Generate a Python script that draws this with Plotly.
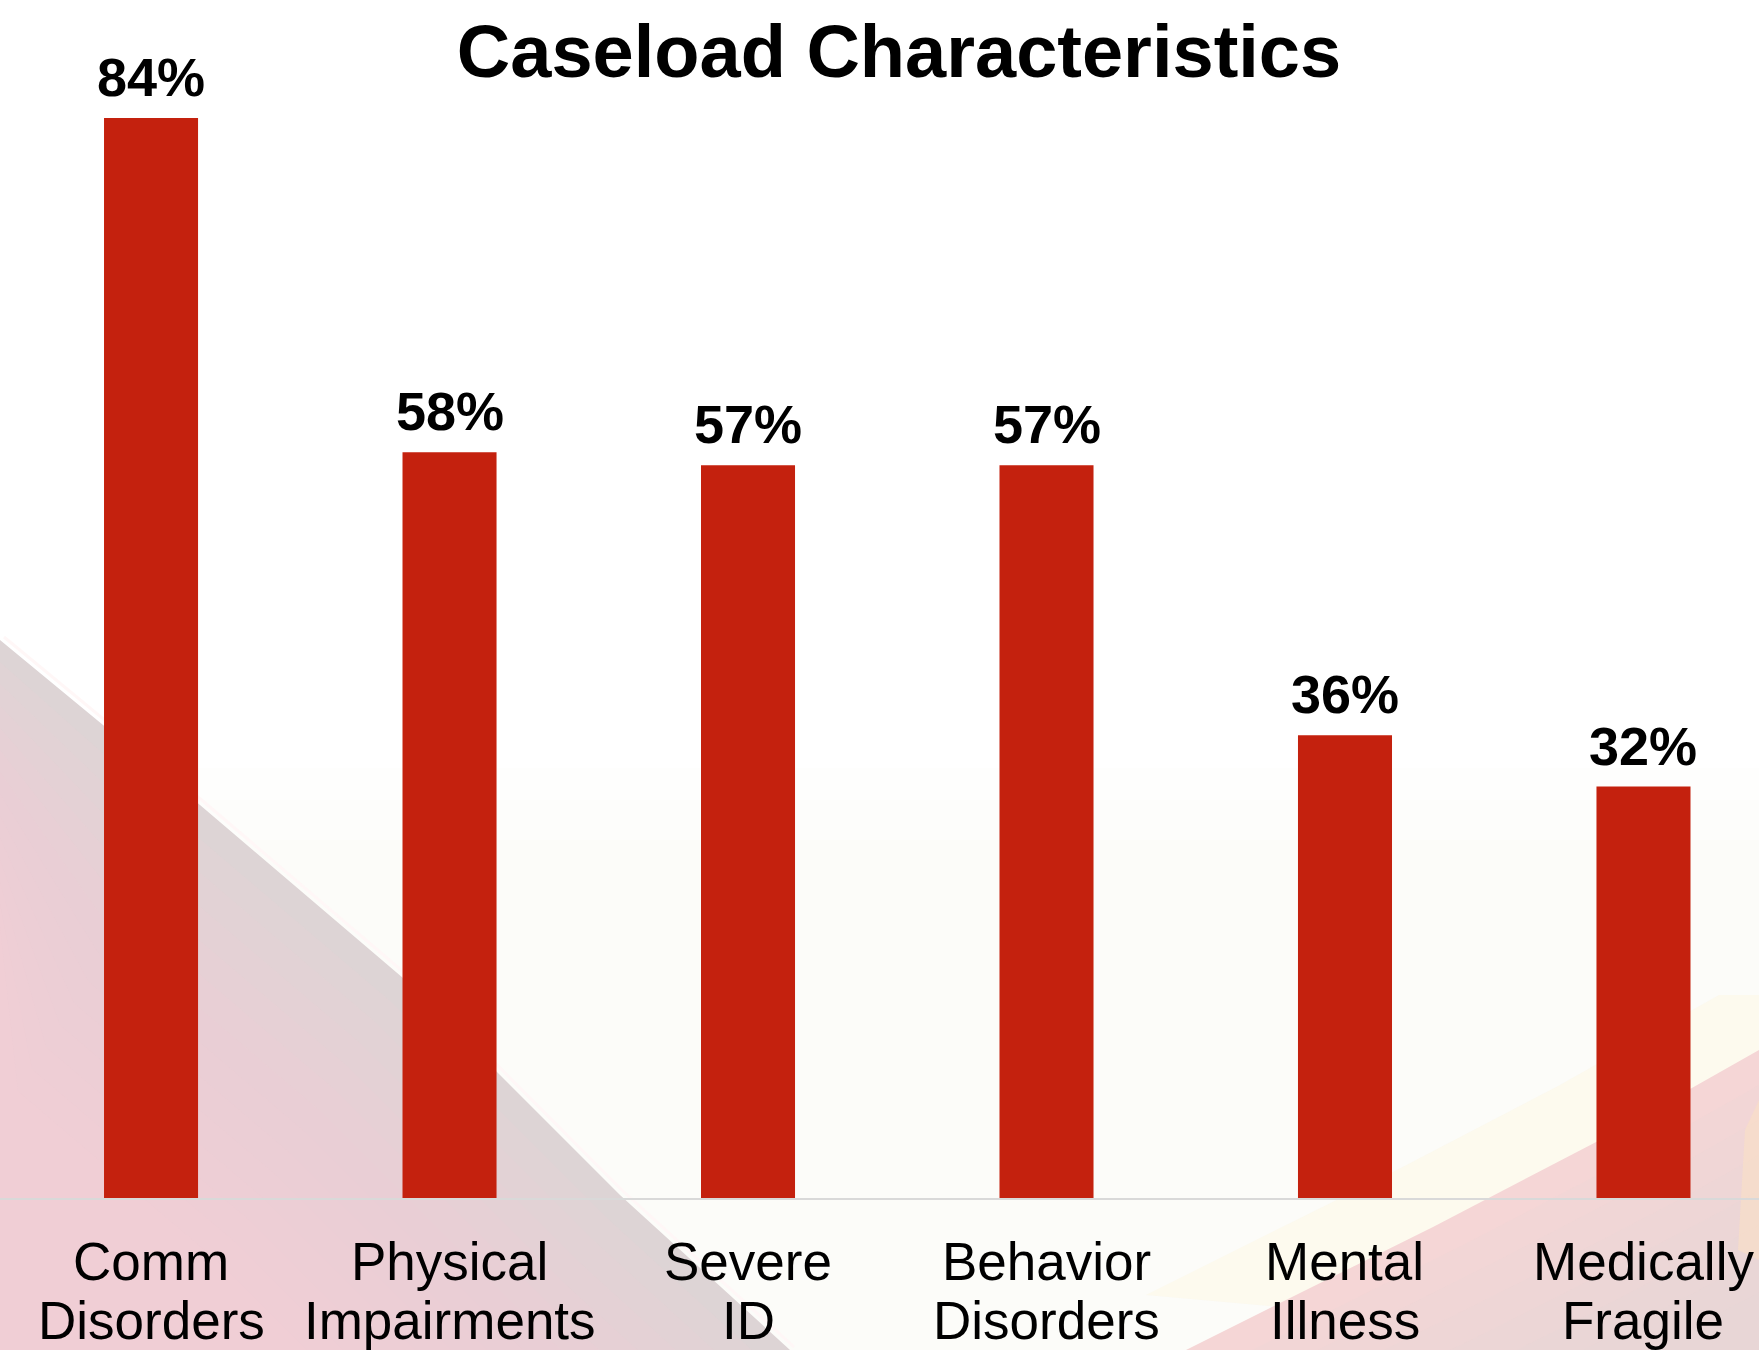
import plotly.graph_objects as go

# Caseload characteristics: share of caseload (%) by category
categories = [
    "Comm Disorders",
    "Physical Impairments",
    "Severe ID",
    "Behavior Disorders",
    "Mental Illness",
    "Medically Fragile",
]
percentages = [84, 58, 57, 57, 36, 32]
value_labels = ["84%", "58%", "57%", "57%", "36%", "32%"]

title_text = "Caseload Characteristics"

W, H = 1759, 1350
MARGIN_B = 152
PLOT_H = H - MARGIN_B

BAR_COLOR = "#c4210e"
FONT = "Liberation Sans, Arial, Helvetica, sans-serif"


def to_paper(x, y):
    """Convert page pixel coordinates to paper coordinates of the plot area."""
    return x / W, (PLOT_H - y) / PLOT_H


def path_from(points, close=True):
    pts = [to_paper(x, y) for x, y in points]
    d = "M " + " L ".join(f"{px:.5f},{py:.5f}" for px, py in pts)
    return d + " Z" if close else d


def bg_shape(points, color):
    return dict(type="path", xref="paper", yref="paper", layer="below",
                path=path_from(points), fillcolor=color, line=dict(width=0))


shapes = []

# soft slide backdrop: barely-there warm wash on the lower half
for k, top in enumerate([768, 800, 840]):
    shapes.append(bg_shape([(0, top), (W, top), (W, H), (0, H)],
                           "rgba(246,240,232,0.08)"))

# left diagonal panel (grey-pink, deepening to pink toward the corner)
left_edge = [(0, 640), (200, 805), (403, 978), (620, 1195), (790, 1350)]
shapes.append(bg_shape(left_edge + [(0, H)], "#ddd4d5"))
for k in range(1, 14):
    shifted = [(x - 14 * k, y + 22 * k) for x, y in left_edge]
    shifted = [(max(x, 0), y) for x, y in shifted]
    shapes.append(bg_shape([(0, 640 + 22 * k)] + shifted + [(0, H + 400)],
                           "rgba(250,208,210,0.12)"))
# thin pale highlight along the panel edge
edge_hi = [(x + 4, y - 3) for x, y in left_edge]
shapes.append(dict(type="path", xref="paper", yref="paper", layer="below",
                   path=path_from(edge_hi, close=False), fillcolor="rgba(0,0,0,0)",
                   line=dict(width=3, color="rgba(255,246,246,0.9)")))

# right side: pale yellow glow, then pink sweep at the bottom right
right_edge = [(1186, H), (1300, 1293), (1433, 1227), (1600, 1140), (W, 1050)]
glow = [(x - 40, y - 55) for x, y in right_edge] + [(W, 995)]
shapes.append(bg_shape(glow + [(W, H)], "rgba(254,247,228,0.5)"))
shapes.append(bg_shape(right_edge + [(W, H)], "#f5d6d6"))
for k in range(1, 8):
    shifted = [(x + 30 * k, y + 18 * k) for x, y in right_edge]
    shapes.append(bg_shape(shifted + [(W + 400, H + 400)],
                           "rgba(228,214,217,0.15)"))
shapes.append(bg_shape([(1738, 1250), (1745, 1130), (W, 1100), (W, 1260)],
                       "rgba(250,224,196,0.6)"))

fig = go.Figure()
fig.add_trace(go.Bar(
    x=categories,
    y=percentages,
    width=0.315,
    marker=dict(color=BAR_COLOR, line=dict(width=0)),
    hoverinfo="skip",
))

annotations = []
# value labels above bars
for cat, val, lab in zip(categories, percentages, value_labels):
    annotations.append(dict(
        x=cat, y=val, xref="x", yref="y", text=f"<b>{lab}</b>", showarrow=False,
        yanchor="bottom", yshift=9,
        font=dict(family=FONT, size=54, color="#000000"),
    ))
# two-line category labels under the axis
for cat in categories:
    first, second = cat.split(" ", 1)
    annotations.append(dict(
        x=cat, y=0, xref="x", yref="paper", text=first, showarrow=False,
        yanchor="middle", yshift=-63,
        font=dict(family=FONT, size=53, color="#000000"),
    ))
    annotations.append(dict(
        x=cat, y=0, xref="x", yref="paper", text=second, showarrow=False,
        yanchor="middle", yshift=-122,
        font=dict(family=FONT, size=53, color="#000000"),
    ))

fig.update_layout(
    width=W,
    height=H,
    margin=dict(l=0, r=0, t=0, b=MARGIN_B, pad=0, autoexpand=False),
    paper_bgcolor="#ffffff",
    plot_bgcolor="rgba(0,0,0,0)",
    showlegend=False,
    title=dict(
        text=f"<b>{title_text}</b>",
        x=899 / W, xanchor="center", xref="container",
        y=1 - 25 / H, yanchor="top", yref="container",
        font=dict(family=FONT, size=74, color="#000000"),
    ),
    xaxis=dict(
        type="category",
        range=[-0.506, 5.387],
        showline=True, linecolor="#d9d9d9", linewidth=2,
        showticklabels=False, ticks="", showgrid=False, zeroline=False,
        fixedrange=True,
    ),
    yaxis=dict(
        range=[0, PLOT_H / 12.857],
        visible=False, showgrid=False, zeroline=False, fixedrange=True,
    ),
    shapes=shapes,
    annotations=annotations,
)

fig.write_html("out.html", config={"displayModeBar": False})
